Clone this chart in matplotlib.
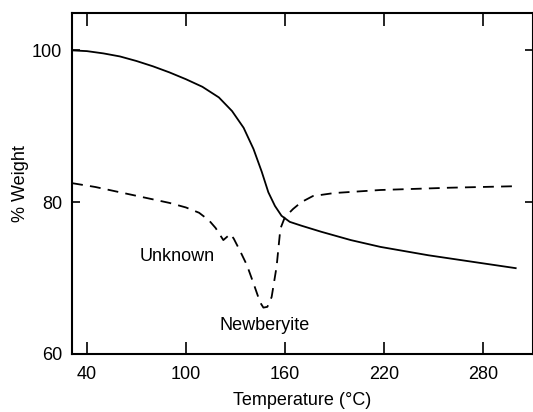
import matplotlib
matplotlib.use("Agg")
import matplotlib.pyplot as plt

# solid curve: % weight vs temperature
solid_T = [31, 40, 50, 60, 70, 80, 90, 100, 110, 120, 128, 135, 141, 146, 150, 154, 158,
           163, 170, 182, 200, 218, 247, 275, 300]
solid_W = [100.0, 99.9, 99.6, 99.2, 98.6, 97.9, 97.1, 96.2, 95.2, 93.8, 92.0, 89.8, 87.0,
           84.0, 81.3, 79.5, 78.2, 77.4, 76.9, 76.1, 75.0, 74.1, 73.0, 72.1, 71.3]

# dashed curve
dash_T = [31, 45, 60, 75, 90, 100, 108, 114, 118, 122.7, 126.9, 129, 133, 137, 141, 145,
          147, 149.4, 152, 155, 157.3, 160, 165, 170, 177, 190, 218, 260, 300]
dash_W = [82.5, 82.0, 81.3, 80.6, 79.9, 79.3, 78.6, 77.6, 76.6, 75.0, 75.8, 75.2, 73.5,
          71.7, 69.3, 66.8, 66.1, 66.2, 67.5, 71.5, 76.5, 78.0, 79.1, 80.0, 80.8, 81.2,
          81.6, 81.9, 82.1]

x_ticks = [40, 100, 160, 220, 280]
y_ticks = [60, 80, 100]

plt.rcParams['font.family'] = ['Liberation Sans', 'DejaVu Sans']

fig = plt.figure(figsize=(5.33, 4.12), dpi=100)
ax = fig.add_axes([0.135, 0.141, 0.865, 0.827])

ax.plot(solid_T, solid_W, color='black', lw=1.3)
ax.plot(dash_T, dash_W, color='black', lw=1.3, dashes=(6, 4))

ax.text(94.7, 72.8, "Unknown", ha='center', va='center', fontsize=13)
ax.text(147.6, 63.8, "Newberyite", ha='center', va='center', fontsize=13)

ax.set_xlim(30.9, 310.5)
ax.set_ylim(60, 104.9)
ax.set_xticks(x_ticks)
ax.set_yticks(y_ticks)
ax.tick_params(axis='x', direction='in', length=9, width=1.2, top=True, labelsize=13, pad=9)
ax.tick_params(axis='y', direction='in', length=6, width=1.2, right=True, labelsize=13, pad=7)
for s in ax.spines.values():
    s.set_linewidth(1.5)

ax.set_xlabel("Temperature (°C)", fontsize=13, labelpad=6)
ax.set_ylabel("% Weight", fontsize=13, labelpad=2)

fig.savefig("out.png", dpi=100)
